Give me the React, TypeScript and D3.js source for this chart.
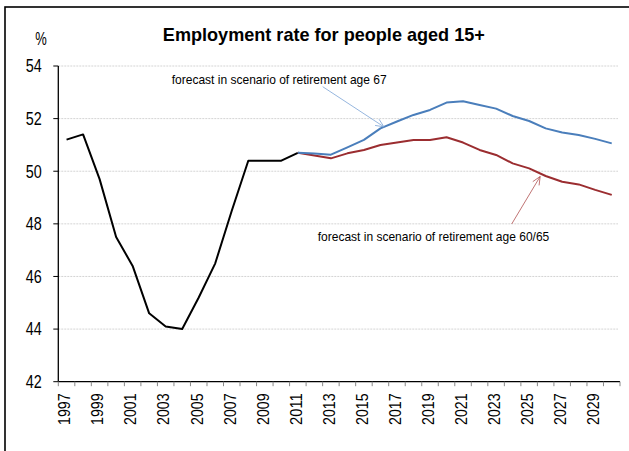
import React from "react";
import * as d3 from "d3";

const years = [1997, 1998, 1999, 2000, 2001, 2002, 2003, 2004, 2005, 2006, 2007, 2008, 2009, 2010, 2011, 2012, 2013, 2014, 2015, 2016, 2017, 2018, 2019, 2020, 2021, 2022, 2023, 2024, 2025, 2026, 2027, 2028, 2029, 2030];
const histYears = [1997, 1998, 1999, 2000, 2001, 2002, 2003, 2004, 2005, 2006, 2007, 2008, 2009, 2010, 2011];
const histValues = [51.2, 51.4, 49.7, 47.5, 46.4, 44.6, 44.1, 44.0, 45.2, 46.5, 48.5, 50.4, 50.4, 50.4, 50.7];
const fcYears = [2011, 2012, 2013, 2014, 2015, 2016, 2017, 2018, 2019, 2020, 2021, 2022, 2023, 2024, 2025, 2026, 2027, 2028, 2029, 2030];
const age67Values = [50.7, 50.67, 50.63, 50.91, 51.19, 51.63, 51.89, 52.14, 52.33, 52.61, 52.66, 52.52, 52.38, 52.1, 51.91, 51.63, 51.47, 51.38, 51.23, 51.06];
const age6065Values = [50.7, 50.6, 50.49, 50.68, 50.81, 51.0, 51.09, 51.19, 51.19, 51.29, 51.09, 50.81, 50.62, 50.3, 50.11, 49.82, 49.6, 49.5, 49.29, 49.1];
const yTicks = [42, 44, 46, 48, 50, 52, 54];
const xLabelYears = [1997, 1999, 2001, 2003, 2005, 2007, 2009, 2011, 2013, 2015, 2017, 2019, 2021, 2023, 2025, 2027, 2029];
const title = "Employment rate for people aged 15+";
const unitLabel = "%";
const note67 = "forecast in scenario of retirement age 67";
const note6065 = "forecast in scenario of retirement age 60/65";

const FONT = "'Liberation Sans', Arial, Helvetica, sans-serif";

function Arrow({ x1, y1, x2, y2, color }: { x1: number; y1: number; x2: number; y2: number; color: string }) {
  const ang = Math.atan2(y2 - y1, x2 - x1);
  const L = 9;
  const a = 0.42;
  const p1 = [x2 - L * Math.cos(ang - a), y2 - L * Math.sin(ang - a)];
  const p2 = [x2 - L * Math.cos(ang + a), y2 - L * Math.sin(ang + a)];
  return (
    <g stroke={color} strokeWidth={0.8} fill="none">
      <line x1={x1} y1={y1} x2={x2} y2={y2} />
      <polyline points={`${p1[0]},${p1[1]} ${x2},${y2} ${p2[0]},${p2[1]}`} />
    </g>
  );
}

export default function App() {
  const W = 629, H = 451;
  const left = 58.3, right = 620, top = 66, bottom = 381.7;
  const x = d3.scaleBand<number>().domain(years).range([left, right]).paddingInner(0).paddingOuter(0);
  const y = d3.scaleLinear().domain([42, 54]).range([bottom, top]);
  const bw = x.bandwidth();
  const cx = (yr: number) => (x(yr) as number) + bw / 2;

  const line = d3.line<[number, number]>().x((d) => cx(d[0])).y((d) => y(d[1]));
  const hist = line(histYears.map((yr, i) => [yr, histValues[i]]));
  const s67 = line(fcYears.map((yr, i) => [yr, age67Values[i]]));
  const s6065 = line(fcYears.map((yr, i) => [yr, age6065Values[i]]));

  const i2016 = fcYears.indexOf(2016);
  const i2026 = fcYears.indexOf(2026);
  const tip67 = [cx(2016) + 3.5, y(age67Values[i2016]) - 1.5];
  const tip6065 = [cx(2026) - 5.5, y(age6065Values[i2026]) + 0.5];

  return (
    <svg width={W} height={H} style={{ position: "absolute", left: 0, top: 0, display: "block", background: "#fff" }} fontFamily={FONT}>
      <rect x={0} y={0} width={W} height={H} fill="#fff" />
      <rect x={5} y={7} width={W + 20} height={H + 20} fill="none" stroke="#000" strokeWidth={1.6} />

      {/* title */}
      <text x={(162.7 + 485) / 2} y={40.7} textAnchor="middle" fontSize={18.5} fontWeight="bold" fill="#000"
        textLength={322} lengthAdjust="spacingAndGlyphs">{title}</text>
      <text x={41} y={45} textAnchor="middle" fontSize={17.5} fill="#000" textLength={11.5} lengthAdjust="spacingAndGlyphs">{unitLabel}</text>

      {/* gridlines */}
      {yTicks.filter((t) => t !== 42).map((t) => (
        <line key={"g" + t} x1={left} x2={right - 2} y1={y(t)} y2={y(t)} stroke="#d4d4d4" strokeWidth={1} strokeDasharray="2,1" />
      ))}

      {/* y axis */}
      <line x1={left} x2={left} y1={top} y2={bottom} stroke="#000" strokeWidth={1.3} />
      {yTicks.map((t) => (
        <g key={"y" + t}>
          <line x1={left - 5} x2={left} y1={y(t)} y2={y(t)} stroke="#000" strokeWidth={1} />
          <text x={41.7} y={y(t)} dy="0.36em" textAnchor="end" fontSize={17.7} fill="#000"
            textLength={16} lengthAdjust="spacingAndGlyphs">{t}</text>
        </g>
      ))}

      {/* x axis */}
      <line x1={left} x2={right} y1={bottom} y2={bottom} stroke="#000" strokeWidth={1.3} />
      {years.concat([2031]).map((yr, i) => {
        const xx = left + i * bw;
        return <line key={"xt" + yr} x1={xx} x2={xx} y1={bottom} y2={bottom + 4.5} stroke="#888" strokeWidth={1} />;
      })}
      {xLabelYears.map((yr) => (
        <text key={"xl" + yr} transform={`translate(${cx(yr) + 3.8},${393.3}) rotate(-90)`} textAnchor="end"
          fontSize={16.2} fill="#000" textLength={31.7} lengthAdjust="spacingAndGlyphs">{yr}</text>
      ))}

      {/* series */}
      <path d={hist || ""} fill="none" stroke="#000" strokeWidth={2} strokeLinejoin="round" />
      <path d={s6065 || ""} fill="none" stroke="#9B2D30" strokeWidth={2} strokeLinejoin="round" />
      <path d={s67 || ""} fill="none" stroke="#4A7EBB" strokeWidth={2} strokeLinejoin="round" />

      {/* annotations */}
      <text x={171.7} y={84} fontSize={13} fill="#000" textLength={215} lengthAdjust="spacingAndGlyphs">{note67}</text>
      <Arrow x1={322.7} y1={86.7} x2={tip67[0]} y2={tip67[1]} color="#7BA3D6" />
      <text x={317.7} y={240.7} fontSize={13} fill="#000" textLength={231.6} lengthAdjust="spacingAndGlyphs">{note6065}</text>
      <Arrow x1={511.7} y1={224} x2={tip6065[0]} y2={tip6065[1]} color="#B05050" />
    </svg>
  );
}
